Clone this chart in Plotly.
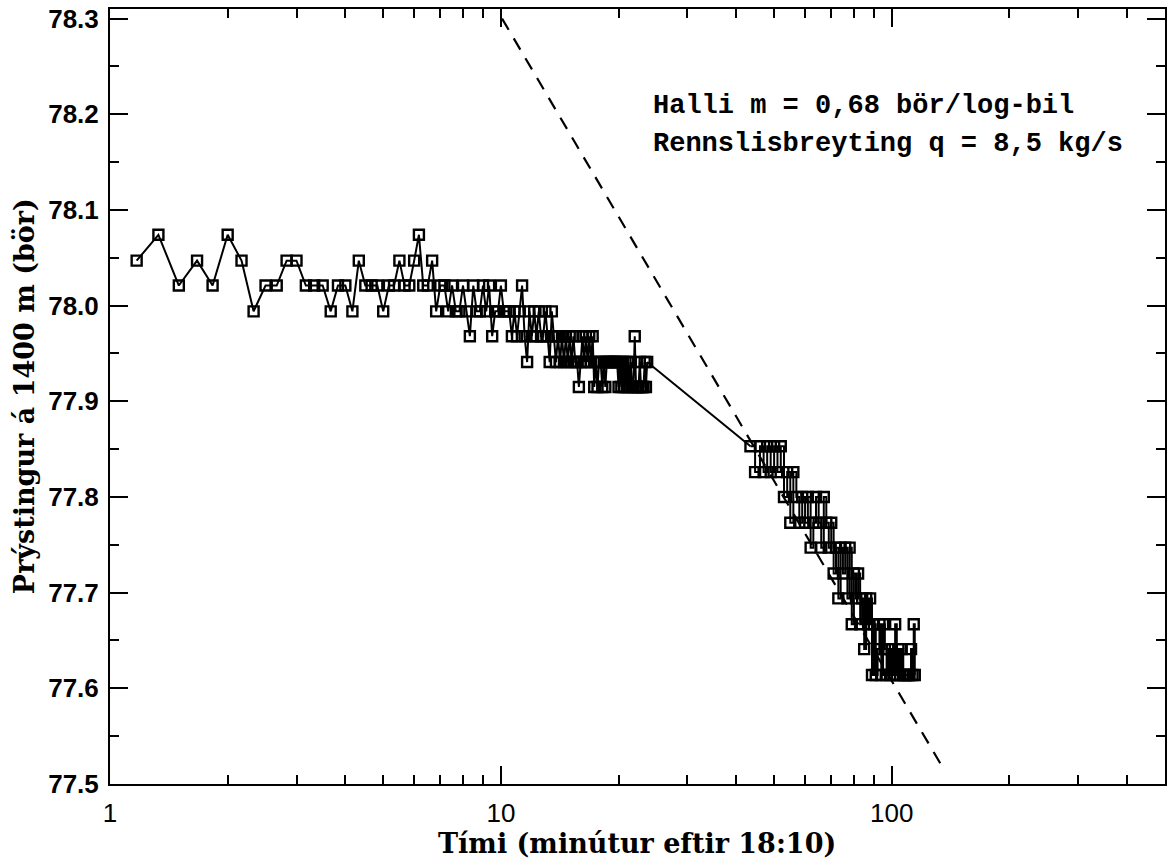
import math
import plotly.graph_objects as go

# ---- data (time in minutes, pressure in bar) ----
t_early = [1.17, 1.33, 1.50, 1.67, 1.83, 2.00, 2.17, 2.33, 2.50, 2.67, 2.83, 3.00,
           3.17, 3.33, 3.50, 3.67, 3.83, 4.00, 4.17, 4.33, 4.50, 4.67, 4.83, 5.00,
           5.17, 5.33, 5.50, 5.67, 5.83, 6.00, 6.17, 6.33, 6.50, 6.67, 6.83, 7.00,
           7.17, 7.33, 7.50, 7.67, 7.83, 8.00, 8.17, 8.33, 8.50, 8.67, 8.83, 9.00,
           9.17, 9.33, 9.50, 9.67, 9.83, 10.00, 10.17, 10.33, 10.50, 10.67, 10.83, 11.00,
           11.17, 11.33, 11.50, 11.67, 11.83, 12.00, 12.17, 12.33, 12.50, 12.67, 12.83, 13.00,
           13.17, 13.33, 13.50, 13.67, 13.83, 14.00, 14.17, 14.33, 14.50, 14.67, 14.83, 15.00,
           15.17, 15.33, 15.50, 15.67, 15.83, 16.00, 16.17, 16.33, 16.50, 16.67, 16.83, 17.00,
           17.17, 17.33, 17.50, 17.67, 17.83, 18.00, 18.17, 18.33, 18.50, 18.67, 18.83, 19.00,
           19.17, 19.33, 19.50, 19.67, 19.83, 20.00, 20.17, 20.33, 20.50, 20.67, 20.83, 21.00,
           21.17, 21.33, 21.50, 21.67, 21.83, 22.00, 22.17, 22.33, 22.50, 22.67, 22.83, 23.00,
           23.17, 23.33, 23.50, 23.67]
p_early = [78.047, 78.074, 78.021, 78.047, 78.021, 78.074, 78.047, 77.994, 78.021, 78.021, 78.047, 78.047,
           78.021, 78.021, 78.021, 77.994, 78.021, 78.021, 77.994, 78.047, 78.021, 78.021, 78.021, 77.994,
           78.021, 78.021, 78.047, 78.021, 78.021, 78.047, 78.074, 78.021, 78.021, 78.047, 77.994, 78.021,
           78.021, 77.994, 78.021, 77.994, 77.994, 78.021, 77.994, 77.968, 78.021, 77.994, 77.994, 78.021,
           77.994, 78.021, 77.968, 77.994, 77.994, 78.021, 77.994, 77.994, 77.994, 77.968, 77.994, 77.968,
           77.994, 78.021, 77.968, 77.941, 77.994, 77.968, 77.994, 77.968, 77.994, 77.968, 77.968, 77.994,
           77.968, 77.941, 77.994, 77.968, 77.941, 77.968, 77.941, 77.968, 77.941, 77.968, 77.941, 77.968,
           77.941, 77.968, 77.941, 77.941, 77.915, 77.941, 77.968, 77.941, 77.968, 77.941, 77.968, 77.941,
           77.968, 77.915, 77.941, 77.915, 77.941, 77.941, 77.915, 77.941, 77.915, 77.941, 77.941, 77.941,
           77.941, 77.941, 77.941, 77.941, 77.941, 77.915, 77.941, 77.915, 77.941, 77.915, 77.941, 77.915,
           77.941, 77.915, 77.941, 77.915, 77.915, 77.968, 77.915, 77.915, 77.915, 77.941, 77.915, 77.915,
           77.915, 77.941, 77.915, 77.941]

t_late = [43.5, 44.7, 46, 47, 48, 49, 50, 51, 52, 53, 54, 55, 56, 57, 58, 59, 60, 61, 62, 63,
          64, 65, 66, 67, 68, 69, 70, 71, 72, 73, 74, 75, 76, 77, 78, 79, 80, 81, 82, 83,
          84, 85, 86, 87, 88, 89, 90, 91, 92, 93, 94, 95, 96, 97, 98, 99, 100, 101, 102, 103,
          104, 105, 106, 107, 108, 109, 110, 111, 112, 113, 113.8, 114.5]
p_late = [77.853, 77.826, 77.853, 77.826, 77.853, 77.826, 77.853, 77.826, 77.853, 77.800,
          77.826, 77.773, 77.826, 77.800, 77.773, 77.800, 77.773, 77.800, 77.747, 77.773,
          77.800, 77.773, 77.747, 77.800, 77.773, 77.747, 77.773, 77.720, 77.747, 77.694,
          77.747, 77.720, 77.747, 77.694, 77.747, 77.667, 77.720, 77.694, 77.720, 77.667,
          77.694, 77.641, 77.694, 77.667, 77.694, 77.614, 77.667, 77.614, 77.641, 77.667,
          77.614, 77.667, 77.641, 77.614, 77.641, 77.614, 77.641, 77.614, 77.667, 77.614,
          77.641, 77.614, 77.641, 77.614, 77.614, 77.614, 77.614, 77.614, 77.641, 77.614,
          77.667, 77.614]

# semi-log straight line fitted to the late data (endpoints)
fit_t = [10.07, 136.0]
fit_p = [78.300, 77.515]

x_ticks = [1, 10, 100]
x_minor = [2, 3, 4, 5, 6, 7, 8, 9, 20, 30, 40, 50, 60, 70, 80, 90, 200, 300, 400]
y_ticks = [77.5, 77.6, 77.7, 77.8, 77.9, 78.0, 78.1, 78.2, 78.3]

x_title = "Tími (minútur eftir 18:10)"
y_title = "Prýstingur á 1400 m (bör)"
note1 = "Halli m = 0,68 bör/log-bil"
note2 = "Rennslisbreyting q = 8,5 kg/s"

# ---- figure ----
L, R, T, B = 110, 4, 7, 78
W, H = 1171, 862
PW, PH = W - L - R, H - T - B


def px_x(px):
    return (px - L) / PW


def px_y(py):
    return (H - B - py) / PH


line_style = dict(color="black", width=2)
marker_style = dict(symbol="square-open", size=10, color="black",
                    line=dict(width=2.4, color="black"))

fig = go.Figure()
fig.add_trace(go.Scatter(x=t_early, y=p_early, mode="lines+markers",
                         line=line_style, marker=marker_style,
                         showlegend=False, hoverinfo="skip"))
# solid segment joining the two measurement periods
fig.add_trace(go.Scatter(x=[t_early[-1], t_late[0]], y=[p_early[-1], p_late[0]],
                         mode="lines", line=line_style,
                         showlegend=False, hoverinfo="skip"))
fig.add_trace(go.Scatter(x=t_late, y=p_late, mode="lines+markers",
                         line=dict(color="black", width=2, shape="hv"), marker=marker_style,
                         showlegend=False, hoverinfo="skip"))
fig.add_trace(go.Scatter(x=fit_t, y=fit_p, mode="lines",
                         line=dict(color="black", width=2.2, dash="13px,10px"),
                         showlegend=False, hoverinfo="skip"))

fig.update_layout(
    width=W, height=H,
    margin=dict(l=L, r=R, t=T, b=B),
    paper_bgcolor="white", plot_bgcolor="white",
    xaxis=dict(
        type="log", range=[0, math.log10(500)],
        showgrid=False, zeroline=False,
        showline=True, linecolor="black", linewidth=2, mirror="allticks",
        ticks="inside", ticklen=18, tickwidth=2, tickcolor="black",
        tickmode="array", tickvals=x_ticks, ticktext=[str(v) for v in x_ticks],
        tickfont=dict(family="Liberation Sans", size=26, color="black"),
        ticklabelstandoff=5,
        minor=dict(ticks="inside", ticklen=9, tickwidth=2, tickcolor="black",
                   tickmode="array", tickvals=x_minor, showgrid=False),
    ),
    yaxis=dict(
        range=[77.5, 78.31],
        showgrid=False, zeroline=False,
        showline=True, linecolor="black", linewidth=2, mirror="allticks",
        ticks="inside", ticklen=18, tickwidth=2, tickcolor="black",
        tickmode="array", tickvals=y_ticks, ticktext=[f"{v:.1f}" for v in y_ticks],
        tickfont=dict(family="Liberation Sans", size=26, color="black", weight="bold"),
        ticklabelstandoff=4,
        minor=dict(ticks="inside", ticklen=9, tickwidth=2, tickcolor="black",
                   dtick=0.05, showgrid=False),
    ),
    annotations=[
        dict(text=x_title, xref="paper", yref="paper", x=px_x(638), y=px_y(844),
             xanchor="center", yanchor="middle", showarrow=False,
             font=dict(family="DejaVu Serif", size=27, color="black", weight="bold")),
        dict(text=y_title, xref="paper", yref="paper", x=px_x(24), y=px_y(395),
             xanchor="center", yanchor="middle", showarrow=False, textangle=-90,
             font=dict(family="DejaVu Serif", size=27, color="black", weight="bold")),
        dict(text=note1, xref="paper", yref="paper", x=px_x(652), y=px_y(104),
             xanchor="left", yanchor="middle", showarrow=False,
             font=dict(family="Liberation Mono", size=27, color="black", weight="bold")),
        dict(text=note2, xref="paper", yref="paper", x=px_x(652), y=px_y(142),
             xanchor="left", yanchor="middle", showarrow=False,
             font=dict(family="Liberation Mono", size=27, color="black", weight="bold")),
    ],
)

fig.write_html("out.html")
